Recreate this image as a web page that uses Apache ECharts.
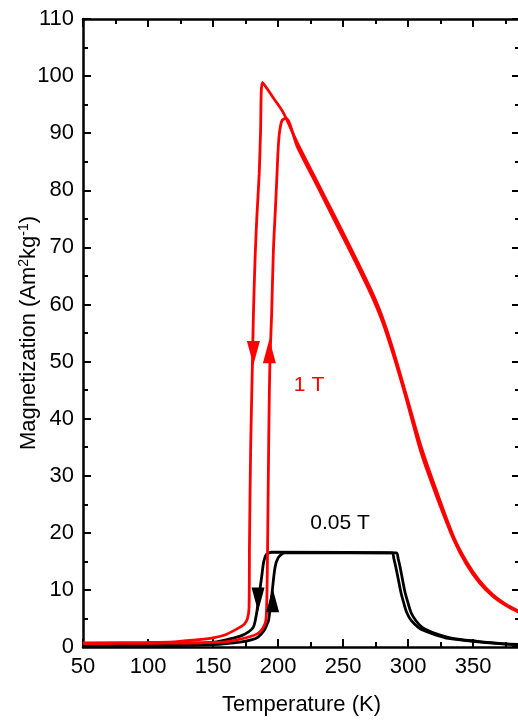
<!DOCTYPE html>
<html>
<head>
<meta charset="utf-8">
<script src="https://cdn.jsdelivr.net/npm/echarts@6/dist/echarts.min.js"></script>
<style>
  html, body { margin: 0; padding: 0; background: #fff; }
  #chart { width: 518px; height: 724px; }
</style>
</head>
<body>
<div id="chart"></div>
<script>
// 1 T, cooling branch (from high temperature down)
var red1TCoolT = [385, 375, 365, 355, 345, 335, 323, 310, 298, 288, 280, 272, 260, 245, 230, 215, 204, 196, 188,
  186.5, 185.5, 183.6, 182.3, 181, 180.3, 179, 178, 177.7, 176.5, 174, 167, 159, 150, 135, 120, 100, 50];
var red1TCoolM = [6.3, 7.5, 9.2, 11.6, 14.9, 19.3, 26.6, 35.1, 44.6, 52.4, 57.9, 62.3, 68.0, 74.8, 81.5, 88.2, 93.6, 96.3, 98.9,
  90, 83, 75, 68, 58, 50, 36, 18, 7, 5, 4, 3, 2.1, 1.6, 1.2, 0.9, 0.8, 0.7];

// 1 T, heating branch (from low temperature up)
var red1THeatT = [50, 100, 130, 150, 159, 169, 178, 184, 188, 190.5, 191.3, 191.8, 192.5, 193.3, 194, 195, 196.4, 198, 199, 200, 201, 203, 206,
  215, 230, 245, 260, 272, 280, 288, 298, 310, 323, 335, 345, 355, 365, 375, 385];
var red1THeatM = [0.6, 0.65, 0.7, 0.8, 0.9, 1.3, 1.8, 2.3, 3.2, 4.5, 8, 15, 30, 45, 52, 58, 69.5, 77, 82, 87, 90, 92.2, 92.6,
  87.5, 80.8, 74, 67.2, 61.5, 57.1, 51.6, 43.9, 34.0, 25.7, 18.8, 14.4, 11.2, 8.9, 7.3, 6.1];

// 0.05 T, cooling branch
var blk005CoolT = [385, 372, 353, 334, 323, 316, 311, 306, 302.3, 299.8, 297.7, 295.5, 293.8, 292.3, 290.8,
  195, 191, 189, 187.5, 186, 184.5, 183, 181, 177, 172, 165, 159, 150, 120, 50];
var blk005CoolM = [0.45, 0.6, 1.0, 1.5, 2.2, 2.8, 3.4, 4.6, 6, 7.8, 9.5, 12, 14, 15.5, 16.5,
  16.6, 16.2, 15, 12.5, 10, 7.5, 5.3, 3.5, 2.6, 2.0, 1.5, 1.2, 0.8, 0.4, 0.3];

// 0.05 T, heating branch
var blk005HeatT = [50, 120, 150, 172, 180, 184.6, 189, 191.5, 192.7, 195, 197.7, 200, 203, 205,
  287.5, 289, 290.5, 292.3, 294.5, 296.5, 299, 302.5, 308, 313, 320, 331, 350, 370, 385];
var blk005HeatM = [0.2, 0.25, 0.4, 0.9, 1.3, 1.75, 2.8, 4, 4.7, 8.8, 14, 15.6, 16.3, 16.5,
  16.5, 15.5, 14, 12, 9.5, 7.8, 6, 4.6, 3.4, 2.8, 2.2, 1.5, 1.0, 0.6, 0.4];

// direction markers on the transition branches: [T, M], 'down' = cooling, 'up' = heating
var redArrowT = [181, 193.3];
var redArrowM = [51.5, 51.8];
var redArrowDir = ['down', 'up'];
var blkArrowT = [184.6, 195.8];
var blkArrowM = [8.3, 8.2];
var blkArrowDir = ['down', 'up'];

// field labels
var fieldLabelText = ['1 T', '0.05 T'];
var fieldLabelT = [223.8, 247.7];
var fieldLabelM = [45.9, 21.7];
var fieldLabelColor = ['#ff0000', '#000000'];

var xTicks = [50, 100, 150, 200, 250, 300, 350];
var yTicks = [0, 10, 20, 30, 40, 50, 60, 70, 80, 90, 100, 110];

function zipPts(t, m) { return t.map(function (v, i) { return [v, m[i]]; }); }

var FONT = '"Liberation Sans", Arial, sans-serif';
var FS = 22;
var axisLine = { show: true, onZero: false, lineStyle: { color: '#000', width: 2.5 } };
var tick = { inside: true, length: 8, lineStyle: { width: 2, color: '#000' } };
var minor = { show: true, splitNumber: 2, length: 5, lineStyle: { width: 2, color: '#000' } };

function arrowSeries(t, m, dir, color) {
  return {
    type: 'scatter', silent: true, z: 5,
    symbol: 'triangle', symbolSize: [13, 24],
    itemStyle: { color: color, opacity: 1 },
    data: t.map(function (v, i) {
      return { value: [v, m[i]], symbolRotate: dir[i] === 'down' ? 180 : 0 };
    })
  };
}

function curve(t, m, color) {
  return {
    type: 'line', showSymbol: false, silent: true, smooth: 0.3,
    lineStyle: { color: color, width: 2.8 },
    data: zipPts(t, m)
  };
}

var chart = echarts.init(document.getElementById('chart'), null, { renderer: 'canvas' });
chart.setOption({
  animation: false,
  backgroundColor: '#fff',
  grid: { left: 83, top: 19, right: -2, bottom: 77, containLabel: false, outerBoundsMode: 'none' },
  xAxis: [{
    type: 'value', min: 50, max: 386, interval: 50, position: 'bottom',
    name: 'Temperature (K)', nameLocation: 'middle', nameGap: 47, nameMoveOverlap: false,
    nameTextStyle: { fontFamily: FONT, fontSize: FS, color: '#000' },
    axisLine: axisLine, axisTick: tick, minorTick: minor,
    axisLabel: { fontFamily: FONT, fontSize: FS, color: '#000', margin: 9, showMaxLabel: false,
      formatter: function (v) { return xTicks.indexOf(v) >= 0 ? String(v) : ''; } },
    splitLine: { show: false }
  }, {
    type: 'value', min: 50, max: 386, interval: 50, position: 'top',
    axisLine: axisLine, axisTick: tick, minorTick: minor,
    axisLabel: { show: false }, splitLine: { show: false }
  }],
  yAxis: [{
    type: 'value', min: 0, max: 110, interval: 10, position: 'left',
    name: '{a|Magnetization (Am}{s|2}{a|kg}{s|-1}{a|)}',
    nameLocation: 'middle', nameGap: 42, nameRotate: 90, nameMoveOverlap: false,
    nameTextStyle: {
      fontFamily: FONT, color: '#000',
      rich: {
        a: { fontFamily: FONT, fontSize: FS, color: '#000' },
        s: { fontFamily: FONT, fontSize: 14, color: '#000', padding: [0, 0, 10, 0] }
      }
    },
    axisLine: axisLine, axisTick: tick, minorTick: minor,
    axisLabel: { fontFamily: FONT, fontSize: FS, color: '#000', margin: 9,
      formatter: function (v) { return yTicks.indexOf(v) >= 0 ? String(v) : ''; } },
    splitLine: { show: false }
  }, {
    type: 'value', min: 0, max: 110, interval: 10, position: 'right',
    axisLine: axisLine, axisTick: tick, minorTick: minor,
    axisLabel: { show: false }, splitLine: { show: false }
  }],
  series: [
    curve(blk005HeatT, blk005HeatM, '#000'),
    curve(blk005CoolT, blk005CoolM, '#000'),
    curve(red1TCoolT, red1TCoolM, '#ff0000'),
    curve(red1THeatT, red1THeatM, '#ff0000'),
    arrowSeries(redArrowT, redArrowM, redArrowDir, '#ff0000'),
    arrowSeries(blkArrowT, blkArrowM, blkArrowDir, '#000'),
    {
      type: 'scatter', silent: true, symbolSize: 0, z: 6,
      itemStyle: { opacity: 1 },
      data: fieldLabelText.map(function (txt, i) {
        return {
          value: [fieldLabelT[i], fieldLabelM[i]],
          label: { show: true, position: 'inside', formatter: txt,
            fontFamily: FONT, fontSize: 21, color: fieldLabelColor[i] }
        };
      })
    }
  ]
});
</script>
</body>
</html>
